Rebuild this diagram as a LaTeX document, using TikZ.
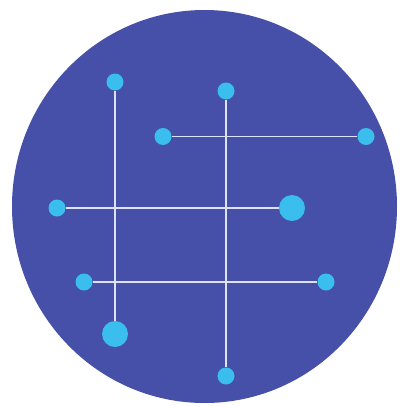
\documentclass[tikz,border=0pt]{standalone}
\definecolor{disc}{RGB}{70,80,168}
\definecolor{dotc}{RGB}{58,190,238}
\definecolor{linec}{RGB}{222,226,246}
\begin{document}
\begin{tikzpicture}[x=1pt,y=-1pt,
  small/.style={circle,fill=dotc,inner sep=0pt,minimum size=17pt},
  big/.style={circle,fill=dotc,inner sep=0pt,minimum size=26pt},
  wire/.style={draw=linec,line width=1.8pt}]
\useasboundingbox[fill=white] (0,0) rectangle (399,407);
\fill[disc] (204.5,206.5) ellipse [x radius=192.5, y radius=196.5];
\node[small] (a) at (115,82) {};
\node[small] (b) at (226,91) {};
\node[small] (c) at (163,136.5) {};
\node[small] (d) at (366,136.5) {};
\node[small] (e) at (57,208) {};
\node[big]   (f) at (292,208) {};
\node[small] (g) at (84,282) {};
\node[small] (h) at (326,282) {};
\node[big]   (i) at (115,334) {};
\node[small] (j) at (226,376) {};
\draw[wire] (a) -- (i);
\draw[wire] (b) -- (j);
\draw[wire] (c) -- (d);
\draw[wire] (e) -- (f);
\draw[wire] (g) -- (h);
\end{tikzpicture}
\end{document}
